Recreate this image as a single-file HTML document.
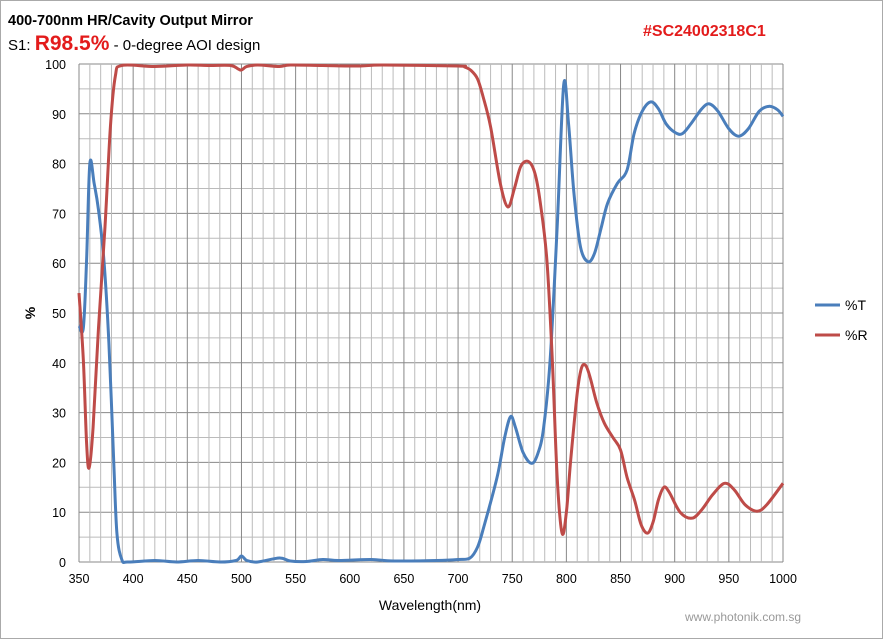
<!DOCTYPE html>
<html><head><meta charset="utf-8"><style>
body{margin:0;background:#fff}
svg{display:block;font-family:"Liberation Sans",Arial,sans-serif}
</style></head><body>
<svg id="s" width="883" height="639" xmlns="http://www.w3.org/2000/svg">
<rect x="0.5" y="0.5" width="882" height="638" fill="#fff" stroke="#aaa"/>
<g id="grid"></g>
<text x="8" y="25" font-size="14.5" font-weight="bold" fill="#000">400-700nm HR/Cavity Output Mirror</text>
<text x="8" y="50" font-size="15" fill="#000">S1: <tspan font-size="21" font-weight="bold" fill="#e31b1b">R98.5%</tspan> - 0-degree AOI design</text>
<text x="643" y="36" font-size="16" font-weight="bold" fill="#e31b1b">#SC24002318C1</text>
<text x="430" y="610" font-size="14" text-anchor="middle" fill="#000">Wavelength(nm)</text>
<text x="35" y="313" font-size="14" font-weight="bold" text-anchor="middle" transform="rotate(-90 35 313)">%</text>
<text x="685" y="621" font-size="12" fill="#999">www.photonik.com.sg</text>
<line x1="815" y1="305" x2="840" y2="305" stroke="#4a7ebb" stroke-width="3"/>
<text x="845" y="310" font-size="14">%T</text>
<line x1="815" y1="335" x2="840" y2="335" stroke="#be4b48" stroke-width="3"/>
<text x="845" y="340" font-size="14">%R</text>
<g id="curves"></g>
</svg>
<script>
var X=function(n){return 79+(n-350)*704/650},Y=function(v){return 562-v*4.98};
var g='';
for(var v=0;v<=100;v+=5){g+='<line x1="79" x2="783" y1="'+Y(v)+'" y2="'+Y(v)+'" stroke="'+(v%10?'#bbb':'#888')+'" stroke-width="1"/>';
 if(v%10==0)g+='<text x="66" y="'+(Y(v)+5)+'" font-size="12.5" text-anchor="end">'+v+'</text>';}
for(var n=350;n<=1000;n+=10){g+='<line y1="64" y2="562" x1="'+X(n)+'" x2="'+X(n)+'" stroke="'+(n%50?'#bbb':'#888')+'" stroke-width="1"/>';
 if(n%50==0)g+='<text x="'+X(n)+'" y="583" font-size="12.5" text-anchor="middle">'+n+'</text>';}
document.getElementById('grid').innerHTML=g;
var T=[350,47.5,354,47,357,60.6,360,80,364,76,368,70.7,373,60.6,377.6,44,382,20.5,385,5.8,389.5,0.5,395,0,420,0.3,440,0,460,0.3,480,0,495,0.3,500,1.2,505,0.3,515,0,535,0.8,545,0.2,560,0.1,575,0.5,590,0.3,620,0.5,640,0.2,680,0.3,700,0.5,711,0.8,718,3,723.7,7,736,17,743,25,748.5,29.2,753,27,760,22,768,19.8,774,22,779,27,785,40.6,791.5,67.3,797.5,95.8,802,88,807,74,813,63.3,820,60.3,826,62,832,67,838,72,847,76,856,78.7,862.5,86,870,90.5,878,92.4,885,91,892,88,900,86.3,907,86,915,88,925,91,932,92,940,90.5,950,87,959,85.5,968,87,978,90.5,987,91.5,995,90.8,1000,89.5];
var R=[350,54,354,40.6,357,23.9,359.3,18.9,363,27,368,47,374,67.3,379,87.4,383.5,97.5,389.5,99.7,420,99.5,450,99.8,470,99.7,490,99.7,497,99,500,98.8,505,99.5,515,99.8,535,99.5,545,99.8,575,99.7,610,99.6,630,99.8,700,99.6,706,99.4,712,98.7,718,97,723,93.5,730,87.4,739,76,746,71.3,752,75,758,79.5,765,80.4,771,78,776,72,782,60.6,787,40.6,791.5,17,796,5.8,800,10,804,20.5,810,33.9,814,39,818,39.4,822,37,828,32,835,27.9,843,25,850,22.5,856,17,863,12.4,869,7.5,875,5.8,880,8,885,12.5,890,15,895,14,905,10,916,8.8,925,10.5,935,13.5,946,15.8,955,14.5,965,11.5,976,10.2,985,11.5,1000,15.8];
function path(a){var p=[];for(var i=0;i<a.length;i+=2)p.push([X(a[i]),Y(a[i+1])]);
var d='M'+p[0][0]+','+p[0][1];
for(var i=0;i<p.length-1;i++){var p0=p[i-1]||p[i],p1=p[i],p2=p[i+1],p3=p[i+2]||p2;
d+=' C'+(p1[0]+(p2[0]-p0[0])/6)+','+(p1[1]+(p2[1]-p0[1])/6)+' '+(p2[0]-(p3[0]-p1[0])/6)+','+(p2[1]-(p3[1]-p1[1])/6)+' '+p2[0]+','+p2[1];}
return d;}
document.getElementById('curves').innerHTML='<path d="'+path(T)+'" fill="none" stroke="#4a7ebb" stroke-width="3"/><path d="'+path(R)+'" fill="none" stroke="#be4b48" stroke-width="3"/>';
</script>
</body></html>
